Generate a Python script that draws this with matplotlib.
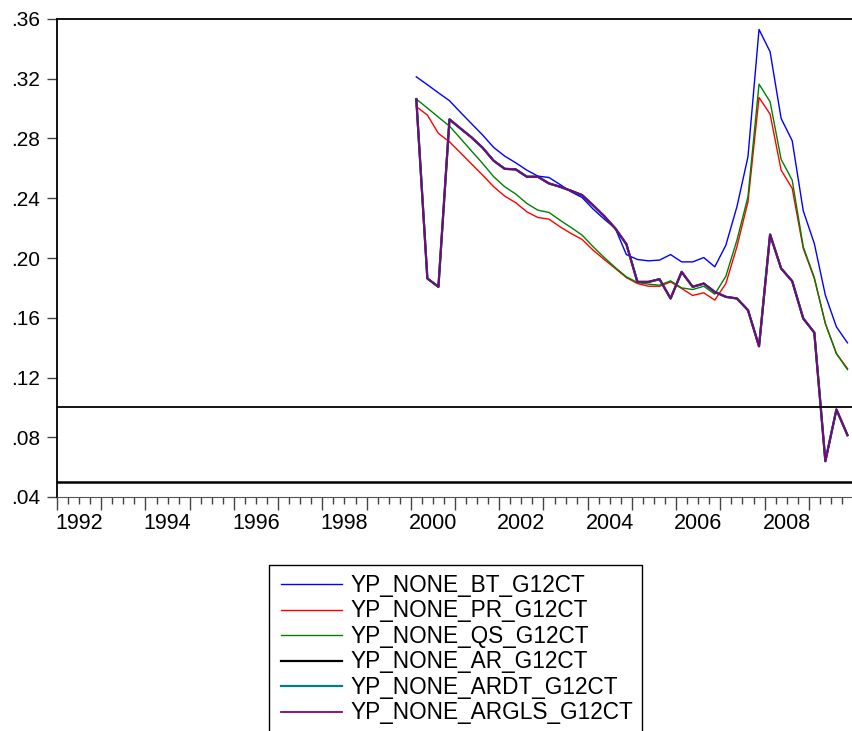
# -*- coding: utf-8 -*-
"""
    - quarterly YP_NONE_*_G12CT series, 2000Q1 - 2009Q4
    - EViews-like look: year labels centred in the year, quarterly minor ticks
"""
#======================================
#           modules
#======================================
import numpy as np
import pandas as pd
import matplotlib
matplotlib.use('Agg')
import matplotlib.pyplot as plt
from matplotlib.patches import Rectangle

plt.rcParams['font.family'] = ['Liberation Sans', 'DejaVu Sans']

#======================================
#           data
#======================================
quarters = pd.period_range('2000Q1', '2009Q4', freq='Q')

bt = [0.3213, 0.3160, 0.3106, 0.3053, 0.2975, 0.2899, 0.2823, 0.2740, 0.2682, 0.2637,
      0.2588, 0.2548, 0.2539, 0.2492, 0.2443, 0.2405, 0.2327, 0.2260, 0.2198, 0.2023,
      0.1990, 0.1981, 0.1986, 0.2023, 0.1974, 0.1974, 0.2003, 0.1941, 0.2086, 0.2343,
      0.2678, 0.3530, 0.3381, 0.2934, 0.2785, 0.2316, 0.2097, 0.1751, 0.1539, 0.1432]
pr = [0.3013, 0.2957, 0.2834, 0.2778, 0.2704, 0.2629, 0.2555, 0.2477, 0.2414, 0.2370,
      0.2309, 0.2271, 0.2260, 0.2209, 0.2164, 0.2124, 0.2052, 0.1990, 0.1930, 0.1869,
      0.1829, 0.1811, 0.1811, 0.1840, 0.1796, 0.1749, 0.1767, 0.1718, 0.1829, 0.2075,
      0.2376, 0.3075, 0.2963, 0.2588, 0.2466, 0.2064, 0.1863, 0.1561, 0.1360, 0.1260]
qs = [0.3064, 0.3004, 0.2943, 0.2883, 0.2800, 0.2716, 0.2633, 0.2544, 0.2477, 0.2428,
      0.2365, 0.2320, 0.2305, 0.2253, 0.2204, 0.2153, 0.2075, 0.2003, 0.1936, 0.1874,
      0.1836, 0.1825, 0.1818, 0.1847, 0.1800, 0.1789, 0.1811, 0.1758, 0.1878, 0.2119,
      0.2410, 0.3164, 0.3046, 0.2660, 0.2521, 0.2075, 0.1869, 0.1561, 0.1360, 0.1253]
argls = [0.3064, 0.1863, 0.1807, 0.2928, 0.2867, 0.2807, 0.2738, 0.2651, 0.2597, 0.2593,
         0.2544, 0.2544, 0.2499, 0.2477, 0.2450, 0.2421, 0.2352, 0.2280, 0.2198, 0.2093,
         0.1840, 0.1840, 0.1858, 0.1729, 0.1907, 0.1807, 0.1829, 0.1773, 0.1740, 0.1729,
         0.1651, 0.1409, 0.2157, 0.1930, 0.1845, 0.1595, 0.1501, 0.0640, 0.0986, 0.0814]
ar   = argls          # AR / ARDT lie under ARGLS
ardt = argls

ref_levels = [0.10, 0.05]

y_ticks = [0.04, 0.08, 0.12, 0.16, 0.20, 0.24, 0.28, 0.32, 0.36]
year_labels = [1992, 1994, 1996, 1998, 2000, 2002, 2004, 2006, 2008]

series = [('YP_NONE_BT_G12CT',    bt,    '#0000ff', 1.0),
          ('YP_NONE_PR_G12CT',    pr,    '#ff0000', 1.0),
          ('YP_NONE_QS_G12CT',    qs,    '#008000', 1.0),
          ('YP_NONE_AR_G12CT',    ar,    '#000000', 1.6),
          ('YP_NONE_ARDT_G12CT',  ardt,  '#008080', 1.6),
          ('YP_NONE_ARGLS_G12CT', argls, '#800080', 1.3)]

#======================================
#           plot
#======================================
a_t = np.array([q.year + (q.quarter - 0.5)/4. for q in quarters])

W, H = 853, 731
fig = plt.figure(figsize=(W/100., H/100.), dpi=100)
ax = fig.add_axes([57./W, 1 - 497./H, 796./W, 478./H])

for s_lab, a_y, s_col, f_lw in series:
    ax.plot(a_t, a_y, color=s_col, lw=f_lw, label=s_lab)

for f_lev, f_lw in zip(ref_levels, [1.3, 1.8]):
    ax.axhline(f_lev, color='black', lw=f_lw)

ax.set_xlim(1992, 2010)
ax.set_ylim(0.04, 0.36)

# y axis
ax.set_yticks(y_ticks)
ax.set_yticklabels([('%.2f' % v)[1:] for v in y_ticks])
ax.tick_params(axis='y', direction='out', length=7, width=1, color='#444444',
               labelsize=15, pad=5)

# x axis: year ticks, quarterly minor ticks, labels in mid year
ax.set_xticks(np.arange(1992, 2011))
ax.set_xticklabels([])
ax.set_xticks(np.arange(1992, 2010, 0.25), minor=True)
ax.tick_params(axis='x', which='major', direction='out', length=9, width=1, color='#444444')
ax.tick_params(axis='x', which='minor', direction='out', length=5, width=1, color='#444444')
for i_year in year_labels:
    ax.text(i_year + 0.5, -0.033, str(i_year), transform=ax.get_xaxis_transform(),
            ha='center', va='top', fontsize=15.5)

ax.spines['right'].set_visible(False)
ax.spines['left'].set_linewidth(1.3)
ax.spines['top'].set_linewidth(1.3)
ax.spines['bottom'].set_color('#555555')

# legend (box runs off the bottom of the picture)
leg = fig.legend(loc='upper left', bbox_to_anchor=(281./W, 1 - 574./H),
                 frameon=False, fontsize=16.3, handlelength=2.7, handletextpad=0.35,
                 labelspacing=0.11, borderpad=0, borderaxespad=0)
fig.patches.append(Rectangle((269./W, -0.05), (642. - 269.)/W, 1 - 565./H + 0.05,
                             transform=fig.transFigure, fill=False,
                             edgecolor='black', lw=1.0))

plt.savefig('out.png', dpi=100)
